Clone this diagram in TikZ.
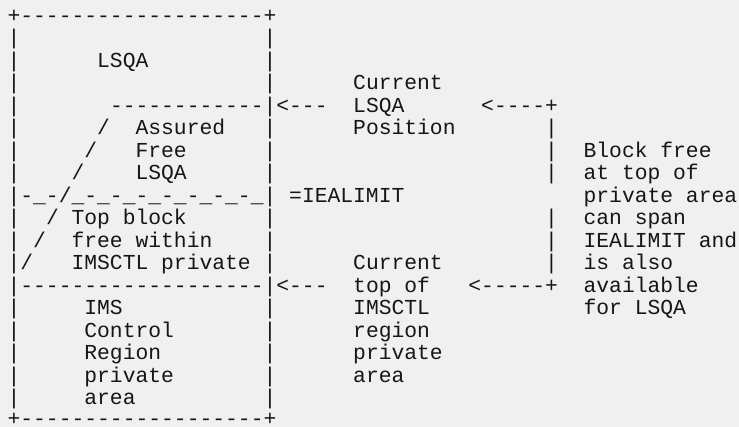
\documentclass[tikz,border=0pt]{standalone}
\usepackage{fontspec}
\setmonofont{Liberation Mono}[Ligatures=TeXOff]
\definecolor{paper}{HTML}{F0F0F0}
\definecolor{ink}{HTML}{161616}
\tikzset{
  ascii/.style={anchor=base west, inner sep=0pt, outer sep=0pt, text=ink,
    font=\ttfamily\fontsize{21.33}{22.5}\selectfont}
}

\begin{document}
\begin{tikzpicture}[x=1pt, y=1pt]
  % \clip (0,0) rectangle (739,-427);
  \useasboundingbox (0,0) rectangle (739,-427);
  \fill [paper] (0,0) rectangle (739,-427);

  % Writing box top and bottom
  \node [ascii] (boxtop) at (7.6,-22.5) {+-------------------+};
  \node [ascii] (boxbot) at (7.6,-425.5) {+-------------------+};

  % Writing box walls
  \foreach \r in {1,2,3,4,5,6,7,9,10,11,13,14,15,16,17}
    \node [ascii] (wl\r) at (7.6,{-22.5*(\r+1)}) {|};
  \foreach \r in {1,2,3,5,6,7,9,10,11,13,14,15,16,17}
    \node [ascii] (wr\r) at (263.6,{-22.5*(\r+1)}) {|};

  % Writing the LSQA part
  \node [ascii] (lsqa) at (97.2,-67.5) {LSQA};
  \node [ascii] (lsqaline) at (110.0,-112.5) {------------|<---};
  \node [ascii] (slash5) at (97.2,-135) {/};
  \node [ascii] (assured) at (135.6,-135) {Assured};
  \node [ascii] (slash6) at (84.4,-157.5) {/};
  \node [ascii] (free) at (135.6,-157.5) {Free};
  \node [ascii] (slash7) at (71.6,-180) {/};
  \node [ascii] (freelsqa) at (135.6,-180) {LSQA};

  % Writing the IEALIMIT line
  \node [ascii] (limitline) at (7.6,-202.5) {|-\_-/\_-\_-\_-\_-\_-\_-\_-\_|};
  \node [ascii] (iealimit) at (289.2,-202.5) {=IEALIMIT};

  % Writing the top block part
  \node [ascii] (slash9) at (46.0,-225) {/};
  \node [ascii] (topblock) at (71.6,-225) {Top block};
  \node [ascii] (slash10) at (33.2,-247.5) {/};
  \node [ascii] (freewithin) at (71.6,-247.5) {free within};
  \node [ascii] (slash11) at (20.4,-270) {/};
  \node [ascii] (imsctlpriv) at (71.6,-270) {IMSCTL private};

  % Writing the control region part
  \node [ascii] (ctlline) at (7.6,-292.5) {|-------------------|<---};
  \node [ascii] (ims) at (84.4,-315) {IMS};
  \node [ascii] (control) at (84.4,-337.5) {Control};
  \node [ascii] (region) at (84.4,-360) {Region};
  \node [ascii] (private) at (84.4,-382.5) {private};
  \node [ascii] (area) at (84.4,-405) {area};

  % Writing current LSQA position
  \node [ascii] (curlsqa1) at (353.2,-90) {Current};
  \node [ascii] (curlsqa2) at (353.2,-112.5) {LSQA};
  \node [ascii] (curlsqa3) at (353.2,-135) {Position};
  \node [ascii] (toparrow) at (481.2,-112.5) {<----+};

  % Writing current top of IMSCTL
  \node [ascii] (curtop1) at (353.2,-270) {Current};
  \node [ascii] (curtop2) at (353.2,-292.5) {top of};
  \node [ascii] (curtop3) at (353.2,-315) {IMSCTL};
  \node [ascii] (curtop4) at (353.2,-337.5) {region};
  \node [ascii] (curtop5) at (353.2,-360) {private};
  \node [ascii] (curtop6) at (353.2,-382.5) {area};
  \node [ascii] (botarrow) at (468.4,-292.5) {<-----+};

  % Writing the span bar
  \foreach \r in {5,6,7,9,10,11}
    \node [ascii] (bar\r) at (545.2,{-22.5*(\r+1)}) {|};

  % Writing the block free note
  \node [ascii] (note1) at (583.6,-157.5) {Block free};
  \node [ascii] (note2) at (583.6,-180) {at top of};
  \node [ascii] (note3) at (583.6,-202.5) {private area};
  \node [ascii] (note4) at (583.6,-225) {can span};
  \node [ascii] (note5) at (583.6,-247.5) {IEALIMIT and};
  \node [ascii] (note6) at (583.6,-270) {is also};
  \node [ascii] (note7) at (583.6,-292.5) {available};
  \node [ascii] (note8) at (583.6,-315) {for LSQA};
\end{tikzpicture}
\end{document}
